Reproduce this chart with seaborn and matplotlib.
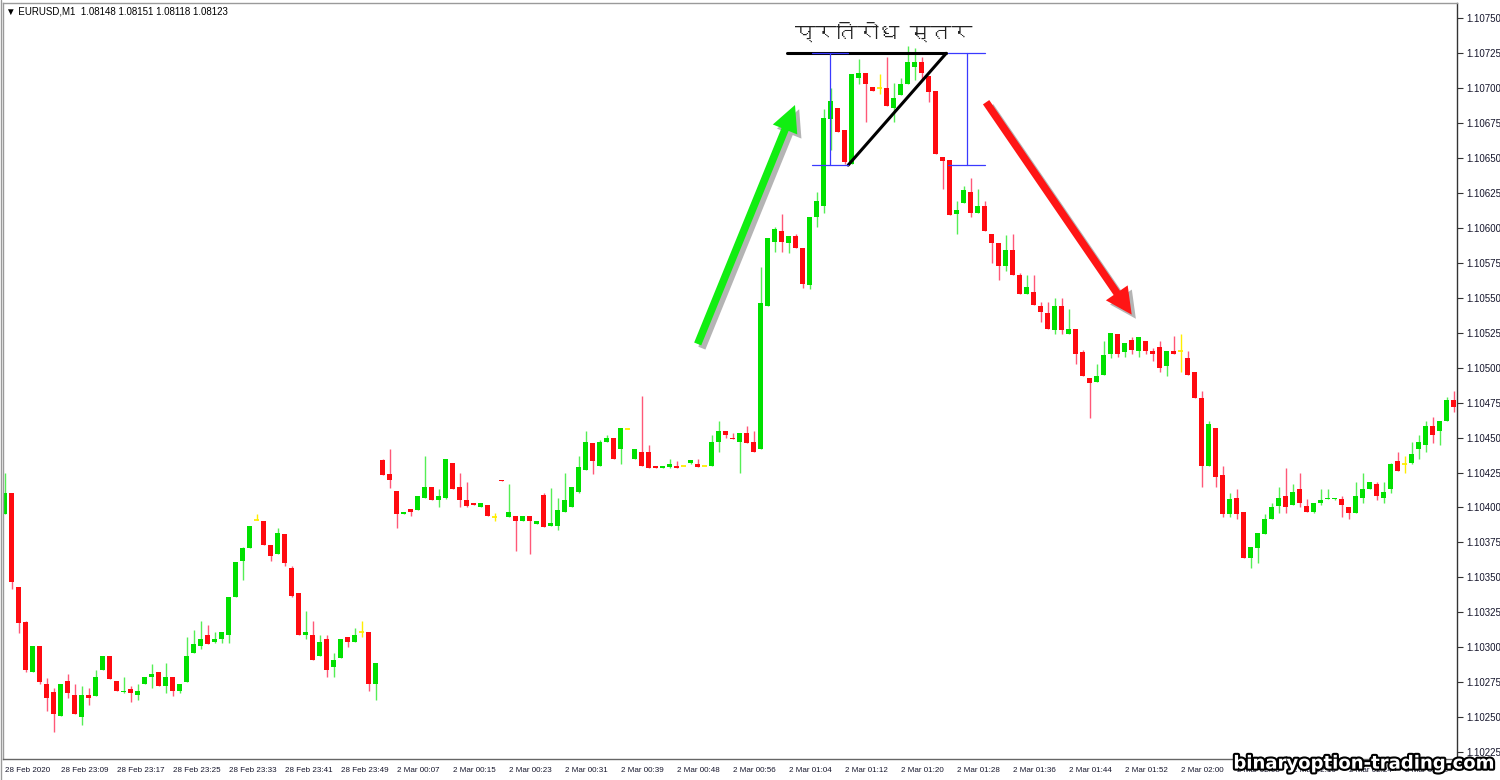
import matplotlib
matplotlib.use('Agg')
import matplotlib.pyplot as plt
import matplotlib.patheffects as pe
from matplotlib import font_manager
from matplotlib.ft2font import FT2Font
from matplotlib.patches import FancyArrowPatch
import numpy as np
import pandas as pd
import seaborn as sns

sns.set_style('white')
plt.rcParams['font.family'] = ['Liberation Sans', 'DejaVu Sans']

# EURUSD M1 candles
opens = [
    1.10395, 1.10410, 1.10343, 1.10318, 1.10282, 1.10301, 1.10274, 1.10268, 1.10251, 1.10276, 1.10266, 1.10250, 1.10266,
    1.10265, 1.10284, 1.10294, 1.10276, 1.10268, 1.10270, 1.10266, 1.10274, 1.10279, 1.10282, 1.10272, 1.10279, 1.10269,
    1.10275, 1.10296, 1.10301, 1.10309, 1.10304, 1.10306, 1.10309, 1.10336, 1.10362, 1.10371, 1.10391, 1.10390, 1.10373,
    1.10367, 1.10381, 1.10357, 1.10339, 1.10309, 1.10309, 1.10294, 1.10306, 1.10286, 1.10292, 1.10307, 1.10304, 1.10311,
    1.10311, 1.10274, 1.10434, 1.10424, 1.10412, 1.10395, 1.10399, 1.10398, 1.10407, 1.10415, 1.10405, 1.10407, 1.10432,
    1.10415, 1.10405, 1.10403, 1.10400, 1.10402, 1.10393, 1.10420, 1.10393, 1.10394, 1.10390, 1.10394, 1.10388, 1.10409,
    1.10387, 1.10387, 1.10397, 1.10400, 1.10411, 1.10427, 1.10446, 1.10430, 1.10447, 1.10450, 1.10442, 1.10456, 1.10435,
    1.10440, 1.10440, 1.10430, 1.10428, 1.10429, 1.10430, 1.10430, 1.10432, 1.10431, 1.10430, 1.10430, 1.10447, 1.10455,
    1.10450, 1.10447, 1.10453, 1.10447, 1.10442, 1.10544, 1.10590, 1.10598, 1.10589, 1.10594, 1.10586, 1.10559, 1.10608,
    1.10616, 1.10678, 1.10686, 1.10670, 1.10646, 1.10707, 1.10711, 1.10701, 1.10700, 1.10700, 1.10686, 1.10695, 1.10703,
    1.10715, 1.10719, 1.10709, 1.10698, 1.10651, 1.10649, 1.10610, 1.10618, 1.10626, 1.10611, 1.10616, 1.10596, 1.10589,
    1.10573, 1.10584, 1.10566, 1.10553, 1.10554, 1.10544, 1.10539, 1.10527, 1.10544, 1.10524, 1.10528, 1.10511, 1.10493,
    1.10490, 1.10495, 1.10510, 1.10524, 1.10511, 1.10520, 1.10512, 1.10519, 1.10512, 1.10515, 1.10501, 1.10512, 1.10512,
    1.10507, 1.10497, 1.10478, 1.10430, 1.10457, 1.10423, 1.10395, 1.10407, 1.10397, 1.10364, 1.10371, 1.10381, 1.10392,
    1.10401, 1.10408, 1.10402, 1.10413, 1.10401, 1.10397, 1.10403, 1.10406, 1.10406, 1.10406, 1.10400, 1.10396, 1.10407,
    1.10413, 1.10417, 1.10407, 1.10413, 1.10433, 1.10431, 1.10432, 1.10442, 1.10445, 1.10458, 1.10455, 1.10462, 1.10477,
]
highs = [
    1.10425, 1.10410, 1.10343, 1.10319, 1.10301, 1.10301, 1.10278, 1.10271, 1.10274, 1.10281, 1.10274, 1.10272, 1.10271,
    1.10284, 1.10294, 1.10294, 1.10276, 1.10279, 1.10272, 1.10274, 1.10279, 1.10288, 1.10282, 1.10289, 1.10279, 1.10274,
    1.10307, 1.10312, 1.10319, 1.10316, 1.10311, 1.10311, 1.10336, 1.10361, 1.10372, 1.10387, 1.10395, 1.10390, 1.10373,
    1.10385, 1.10381, 1.10358, 1.10339, 1.10326, 1.10319, 1.10309, 1.10309, 1.10296, 1.10306, 1.10307, 1.10314, 1.10319,
    1.10311, 1.10289, 1.10435, 1.10442, 1.10412, 1.10397, 1.10399, 1.10408, 1.10437, 1.10415, 1.10413, 1.10435, 1.10432,
    1.10425, 1.10418, 1.10403, 1.10403, 1.10402, 1.10396, 1.10420, 1.10417, 1.10394, 1.10394, 1.10394, 1.10390, 1.10410,
    1.10414, 1.10407, 1.10425, 1.10415, 1.10437, 1.10455, 1.10446, 1.10448, 1.10452, 1.10450, 1.10457, 1.10457, 1.10442,
    1.10480, 1.10445, 1.10430, 1.10430, 1.10435, 1.10433, 1.10430, 1.10434, 1.10435, 1.10430, 1.10452, 1.10462, 1.10455,
    1.10453, 1.10453, 1.10458, 1.10455, 1.10572, 1.10593, 1.10601, 1.10610, 1.10594, 1.10596, 1.10586, 1.10608, 1.10626,
    1.10685, 1.10700, 1.10686, 1.10670, 1.10710, 1.10721, 1.10711, 1.10701, 1.10710, 1.10722, 1.10704, 1.10707, 1.10730,
    1.10729, 1.10722, 1.10709, 1.10698, 1.10651, 1.10649, 1.10619, 1.10630, 1.10636, 1.10628, 1.10619, 1.10596, 1.10589,
    1.10595, 1.10596, 1.10568, 1.10566, 1.10566, 1.10547, 1.10547, 1.10550, 1.10550, 1.10542, 1.10528, 1.10513, 1.10493,
    1.10503, 1.10519, 1.10525, 1.10524, 1.10518, 1.10522, 1.10522, 1.10519, 1.10514, 1.10519, 1.10512, 1.10523, 1.10524,
    1.10512, 1.10497, 1.10483, 1.10462, 1.10457, 1.10430, 1.10410, 1.10413, 1.10397, 1.10372, 1.10382, 1.10395, 1.10403,
    1.10415, 1.10428, 1.10417, 1.10425, 1.10406, 1.10403, 1.10413, 1.10413, 1.10407, 1.10408, 1.10400, 1.10418, 1.10425,
    1.10418, 1.10418, 1.10418, 1.10432, 1.10440, 1.10437, 1.10447, 1.10452, 1.10462, 1.10465, 1.10462, 1.10479, 1.10483,
]
lows = [
    1.10395, 1.10342, 1.10310, 1.10282, 1.10282, 1.10274, 1.10254, 1.10239, 1.10251, 1.10264, 1.10252, 1.10244, 1.10259,
    1.10265, 1.10284, 1.10277, 1.10269, 1.10267, 1.10261, 1.10262, 1.10274, 1.10271, 1.10272, 1.10267, 1.10265, 1.10267,
    1.10275, 1.10296, 1.10299, 1.10302, 1.10303, 1.10303, 1.10303, 1.10336, 1.10348, 1.10371, 1.10391, 1.10373, 1.10362,
    1.10367, 1.10358, 1.10336, 1.10309, 1.10306, 1.10291, 1.10294, 1.10279, 1.10279, 1.10292, 1.10300, 1.10304, 1.10307,
    1.10269, 1.10262, 1.10423, 1.10414, 1.10385, 1.10395, 1.10394, 1.10398, 1.10407, 1.10405, 1.10400, 1.10406, 1.10413,
    1.10400, 1.10400, 1.10402, 1.10400, 1.10394, 1.10390, 1.10419, 1.10393, 1.10369, 1.10390, 1.10367, 1.10388, 1.10386,
    1.10387, 1.10384, 1.10397, 1.10400, 1.10410, 1.10427, 1.10424, 1.10430, 1.10447, 1.10435, 1.10431, 1.10456, 1.10435,
    1.10430, 1.10428, 1.10428, 1.10428, 1.10428, 1.10428, 1.10430, 1.10431, 1.10429, 1.10430, 1.10430, 1.10440, 1.10450,
    1.10449, 1.10425, 1.10446, 1.10440, 1.10442, 1.10544, 1.10583, 1.10583, 1.10582, 1.10586, 1.10557, 1.10556, 1.10601,
    1.10611, 1.10656, 1.10669, 1.10646, 1.10646, 1.10703, 1.10676, 1.10698, 1.10696, 1.10687, 1.10676, 1.10695, 1.10703,
    1.10706, 1.10706, 1.10690, 1.10653, 1.10628, 1.10609, 1.10596, 1.10618, 1.10608, 1.10611, 1.10598, 1.10575, 1.10563,
    1.10569, 1.10566, 1.10553, 1.10553, 1.10545, 1.10533, 1.10528, 1.10524, 1.10524, 1.10524, 1.10503, 1.10494, 1.10464,
    1.10490, 1.10495, 1.10507, 1.10508, 1.10508, 1.10510, 1.10508, 1.10510, 1.10505, 1.10497, 1.10494, 1.10510, 1.10497,
    1.10495, 1.10478, 1.10415, 1.10430, 1.10415, 1.10393, 1.10393, 1.10392, 1.10364, 1.10357, 1.10360, 1.10381, 1.10392,
    1.10396, 1.10396, 1.10402, 1.10400, 1.10397, 1.10396, 1.10402, 1.10406, 1.10405, 1.10393, 1.10392, 1.10396, 1.10403,
    1.10413, 1.10405, 1.10403, 1.10410, 1.10426, 1.10425, 1.10431, 1.10435, 1.10440, 1.10446, 1.10445, 1.10462, 1.10468,
]
closes = [
    1.10410, 1.10347, 1.10317, 1.10284, 1.10301, 1.10275, 1.10264, 1.10252, 1.10274, 1.10267, 1.10252, 1.10266, 1.10264,
    1.10279, 1.10294, 1.10277, 1.10269, 1.10269, 1.10267, 1.10269, 1.10279, 1.10281, 1.10272, 1.10279, 1.10269, 1.10274,
    1.10294, 1.10302, 1.10306, 1.10302, 1.10306, 1.10311, 1.10336, 1.10361, 1.10371, 1.10387, 1.10391, 1.10373, 1.10365,
    1.10382, 1.10360, 1.10337, 1.10309, 1.10311, 1.10291, 1.10304, 1.10284, 1.10291, 1.10306, 1.10304, 1.10309, 1.10311,
    1.10274, 1.10289, 1.10423, 1.10420, 1.10395, 1.10397, 1.10397, 1.10408, 1.10415, 1.10405, 1.10408, 1.10435, 1.10413,
    1.10405, 1.10401, 1.10402, 1.10403, 1.10394, 1.10393, 1.10419, 1.10397, 1.10390, 1.10394, 1.10390, 1.10390, 1.10386,
    1.10389, 1.10398, 1.10405, 1.10415, 1.10429, 1.10447, 1.10433, 1.10447, 1.10450, 1.10435, 1.10457, 1.10456, 1.10442,
    1.10430, 1.10428, 1.10428, 1.10430, 1.10431, 1.10428, 1.10430, 1.10434, 1.10429, 1.10430, 1.10447, 1.10455, 1.10452,
    1.10449, 1.10453, 1.10446, 1.10440, 1.10546, 1.10593, 1.10599, 1.10590, 1.10594, 1.10586, 1.10560, 1.10608, 1.10619,
    1.10679, 1.10691, 1.10669, 1.10647, 1.10710, 1.10711, 1.10703, 1.10698, 1.10700, 1.10687, 1.10693, 1.10703, 1.10719,
    1.10719, 1.10711, 1.10697, 1.10653, 1.10648, 1.10609, 1.10613, 1.10627, 1.10611, 1.10616, 1.10598, 1.10589, 1.10573,
    1.10584, 1.10566, 1.10553, 1.10558, 1.10545, 1.10540, 1.10528, 1.10544, 1.10527, 1.10528, 1.10510, 1.10494, 1.10489,
    1.10494, 1.10509, 1.10525, 1.10510, 1.10518, 1.10513, 1.10522, 1.10512, 1.10510, 1.10500, 1.10512, 1.10510, 1.10512,
    1.10495, 1.10478, 1.10430, 1.10460, 1.10422, 1.10395, 1.10406, 1.10395, 1.10364, 1.10372, 1.10382, 1.10392, 1.10400,
    1.10407, 1.10400, 1.10411, 1.10403, 1.10397, 1.10403, 1.10405, 1.10407, 1.10407, 1.10402, 1.10396, 1.10408, 1.10413,
    1.10418, 1.10408, 1.10411, 1.10431, 1.10426, 1.10431, 1.10438, 1.10447, 1.10458, 1.10452, 1.10462, 1.10477, 1.10472,
]

time_labels = [
    '28 Feb 2020', '28 Feb 23:09', '28 Feb 23:17', '28 Feb 23:25', '28 Feb 23:33',
    '28 Feb 23:41', '28 Feb 23:49', '2 Mar 00:07', '2 Mar 00:15', '2 Mar 00:23',
    '2 Mar 00:31', '2 Mar 00:39', '2 Mar 00:48', '2 Mar 00:56', '2 Mar 01:04',
    '2 Mar 01:12', '2 Mar 01:20', '2 Mar 01:28', '2 Mar 01:36', '2 Mar 01:44',
    '2 Mar 01:52', '2 Mar 02:00', '2 Mar 02:08', '2 Mar 02:16', '2 Mar 02:24',
    '2 Mar 02:32',
]
price_ticks = [1.10225 + 0.00025 * k for k in range(22)]

header = '\u25bc EURUSD,M1  1.08148 1.08151 1.08118 1.08123'
title = 'प्रतिरोध स्तर'
watermark = 'binaryoption-trading.com'

# drawn objects (bar index, price)
resistance = 1.10725
support = 1.10645
green_arrow = ((99.0, 1.10517), (112.9, 1.10688))
red_arrow = ((140.2, 1.10690), (161.0, 1.10538))

GREEN = '#00e000'
GREEN_WICK = '#55ee55'
RED = '#ff0a10'
RED_WICK = '#ff5878'
DOJI = '#ffee00'


def find_font(ch, fallback='DejaVu Sans'):
    for f in font_manager.fontManager.ttflist:
        try:
            if ord(ch) in FT2Font(f.fname).get_charmap():
                return f.name
        except Exception:
            continue
    return fallback


df = pd.DataFrame({'open': opens, 'high': highs, 'low': lows, 'close': closes})
df['i'] = np.arange(len(df))
up = df.close > df.open
down = df.close < df.open
flat = df.close == df.open

fig = plt.figure(figsize=(15, 7.8), dpi=100)
ax = fig.add_axes([3 / 1500, 21 / 780, 1454 / 1500, 756 / 780])

wick_col = np.where(up, GREEN_WICK, np.where(down, RED_WICK, DOJI))
ax.vlines(df.i, df.low, df.high, colors=wick_col, lw=1, zorder=1)
ax.bar(df.i[up], (df.close - df.open)[up], bottom=df.open[up], width=0.72,
       color=GREEN, lw=0, zorder=2)
ax.bar(df.i[down], (df.close - df.open)[down], bottom=df.open[down], width=0.72,
       color=RED, lw=0, zorder=2)
ax.hlines(df.close[flat], df.i[flat] - 0.36, df.i[flat] + 0.36, colors=DOJI, lw=1.3, zorder=2)

# resistance triangle + measuring lines
ax.plot([111.8, 134.5], [resistance, resistance], color='black', lw=2.2, zorder=4)
ax.plot([120.5, 134.5], [support, resistance], color='black', lw=2.2, zorder=4)
blue = '#3a3aff'
for x0, x1, xm in [(115.3, 120.5, 117.9), (134.8, 140.0, 137.5)]:
    ax.plot([x0, x1], [resistance, resistance], color=blue, lw=0.9, zorder=5)
    ax.plot([x0, x1], [support, support], color=blue, lw=0.9, zorder=5)
    ax.plot([xm, xm], [support, resistance], color=blue, lw=0.9, zorder=5)

for (tail, tip), col in [(green_arrow, '#11ee11'), (red_arrow, '#ff1515')]:
    arr = FancyArrowPatch(tail, tip, arrowstyle='simple,head_width=1.9,head_length=1.9,tail_width=0.55',
                          mutation_scale=10, fc=col, ec='none', shrinkA=0, shrinkB=0, zorder=6)
    arr.set_path_effects([pe.SimplePatchShadow(offset=(3, -3), shadow_rgbFace='#777777', alpha=0.55),
                          pe.Normal()])
    ax.add_patch(arr)

deva = find_font(title[0])
ax.text(125.5, 1.10740, title, ha='center', va='center', fontsize=15, color='#222222',
        family=[deva, 'DejaVu Sans'], zorder=6)

ax.set_xlim(-0.24, 207.47)
ax.set_ylim(1.10220, 1.10761)

ax.yaxis.tick_right()
ax.set_yticks(price_ticks)
ax.set_yticklabels([f'{v:.5f}' for v in price_ticks])
ax.tick_params(axis='y', direction='out', length=4, width=0.8, color='#333333',
               labelsize=7, labelcolor='#16162c', pad=3)
ax.set_xticks(np.arange(0, len(df), 8))
ax.set_xticklabels(time_labels, ha='left')
ax.tick_params(axis='x', direction='out', length=4, width=0.8, color='#333333',
               labelsize=5.8, labelcolor='#16162c', pad=2)
ax.set_xlabel('')
ax.set_ylabel('')

for side, col in [('top', '#9a9a9a'), ('left', '#9a9a9a'), ('right', '#333333'), ('bottom', '#666666')]:
    ax.spines[side].set_visible(True)
    ax.spines[side].set_color(col)
    ax.spines[side].set_linewidth(1)

fig.add_artist(plt.Line2D([0.5 / 1500, 0.5 / 1500], [0, 1], color='#9a9a9a', lw=1))

fig.text(6 / 1500, 1 - 11 / 780, header, ha='left', va='center', fontsize=7, color='black')
fig.text(0.995, 0.021, watermark, ha='right', va='center', fontsize=13, fontweight='bold',
         color='white', family='DejaVu Sans',
         path_effects=[pe.withStroke(linewidth=3, foreground='black')])

fig.savefig('out.png', dpi=100)
